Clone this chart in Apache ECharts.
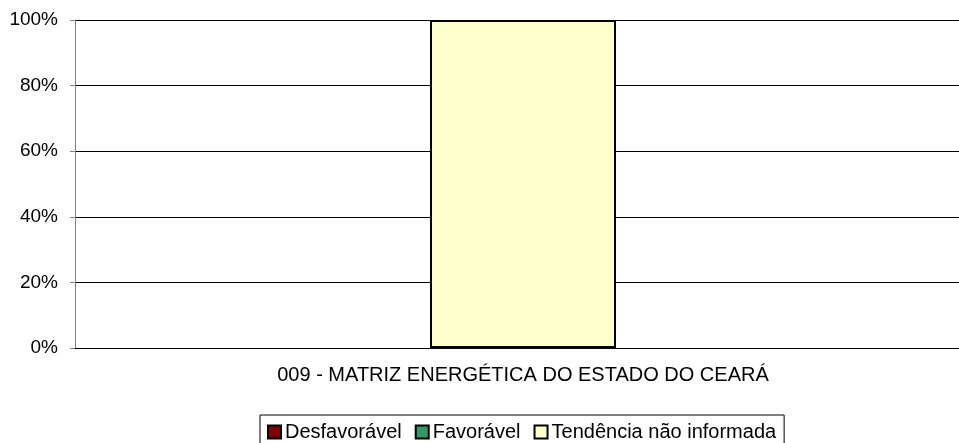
<!DOCTYPE html>
<html>
<head>
<meta charset="utf-8">
<script src="https://cdn.jsdelivr.net/npm/echarts@6/dist/echarts.min.js"></script>
<style>
  html, body { margin: 0; padding: 0; background: #fff; overflow: hidden; }
  #wrap { width: 959px; height: 443px; overflow: hidden; }
  /* the plot runs past the right edge of the window, like the original */
  #chart { width: 971px; height: 443px; }
</style>
</head>
<body>
<div id="wrap"><div id="chart"></div></div>
<script>
const categories = ['009 - MATRIZ ENERGÉTICA DO ESTADO DO CEARÁ'];
const seriesNames = ['Desfavorável', 'Favorável', 'Tendência não informada'];
const desfavoravel = [0];
const favoravel = [0];
const naoInformada = [100];
const seriesColors = ['#800000', '#339966', '#FFFFCC'];
const yTicks = [0, 20, 40, 60, 80, 100];

const font = '"Liberation Sans", Arial, sans-serif';
const values = [desfavoravel, favoravel, naoInformada];

const chart = echarts.init(document.getElementById('chart'));
chart.setOption({
  animation: false,
  textStyle: { fontFamily: font, color: '#000' },
  grid: { left: 75, right: 0, top: 20, bottom: 95 },
  legend: {
    left: 260,
    top: 415,
    padding: [7, 8, 7, 7],
    icon: 'rect',
    itemWidth: 13,
    itemHeight: 13,
    itemGap: 13,
    borderColor: '#000',
    borderWidth: 1,
    textStyle: { fontFamily: font, fontSize: 20, color: '#000', padding: [0, 0, 0, -1] },
    data: seriesNames
  },
  xAxis: {
    type: 'category',
    data: categories,
    axisLine: { lineStyle: { color: '#000', width: 1 } },
    axisTick: { show: false },
    axisLabel: { fontFamily: font, fontSize: 20, color: '#000', margin: 17 }
  },
  yAxis: {
    type: 'value',
    min: yTicks[0],
    max: yTicks[yTicks.length - 1],
    interval: 20,
    axisLine: { show: true, lineStyle: { color: '#808080' } },
    axisTick: { show: true, length: 5, lineStyle: { color: '#808080' } },
    axisLabel: { fontFamily: font, fontSize: 19, color: '#000', margin: 17, formatter: '{value}%' },
    splitLine: { lineStyle: { color: '#000', width: 1 } }
  },
  series: seriesNames.map((name, i) => ({
    name,
    type: 'bar',
    stack: 'total',
    barWidth: 186,
    data: values[i],
    itemStyle: { color: seriesColors[i], borderColor: '#000', borderWidth: 2 }
  }))
});
</script>
</body>
</html>
